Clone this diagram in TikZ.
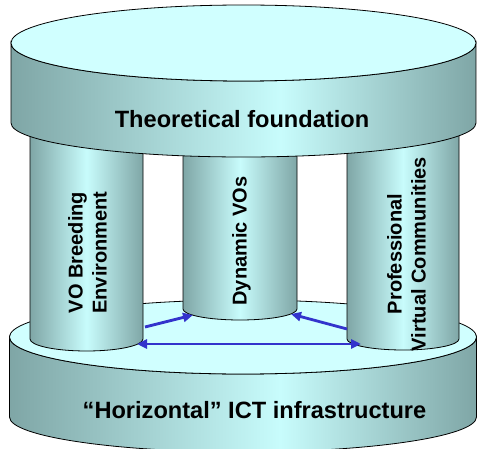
\documentclass[tikz,border=0pt]{standalone}
\usepackage{fontspec}
\setmainfont{Liberation Sans}
\usetikzlibrary{arrows.meta}

\definecolor{cylface}{HTML}{D0FFFF}
\definecolor{cyllight}{HTML}{C8FCFC}
\definecolor{cyldark}{HTML}{7FA6A6}
\definecolor{linkblue}{HTML}{3333CC}

% side shadings of the discs and pillars (dark rim, light band)
\pgfdeclarehorizontalshading{diskside}{100bp}{color(0bp)=(cyldark); color(25bp)=(cyldark); color(54bp)=(cyllight); color(75bp)=(cyldark); color(100bp)=(cyldark)}
\pgfdeclarehorizontalshading{pillarside}{100bp}{color(0bp)=(cyldark); color(25bp)=(cyldark); color(50bp)=(cyllight); color(75bp)=(cyldark); color(100bp)=(cyldark)}

\begin{document}
\begin{tikzpicture}[x=1pt,y=-1pt,
  outline/.style={draw=black,line width=0.8pt},
  title/.style={font=\fontsize{23.6}{28}\selectfont\bfseries,anchor=base,inner sep=0pt},
  pillarlabel/.style={font=\fontsize{20}{24}\selectfont\bfseries,rotate=90,anchor=north,inner sep=0pt,align=center},
  link/.style={draw=linkblue,line width=2.8pt},
  tip/.tip={Triangle[length=10pt,width=9pt]}]
\useasboundingbox (0,0) rectangle (477,449);

% lower disc: ICT infrastructure
\path[outline,shading=diskside] (9.5,337) -- (9.5,417)
  arc[start angle=180,end angle=0,x radius=233.5,y radius=35] -- (476.5,337)
  arc[start angle=0,end angle=180,x radius=233.5,y radius=37] -- cycle;
\path[outline,fill=cylface] (243,337) ellipse[x radius=233.5,y radius=37];

% middle pillar (behind)
\path[outline,shading=pillarside] (183,150) -- (183,309)
  arc[start angle=180,end angle=0,x radius=57,y radius=11] -- (297,150) -- cycle;

% left and right pillars
\path[outline,shading=pillarside] (30,130) -- (30,339)
  arc[start angle=180,end angle=0,x radius=56.5,y radius=12] -- (143,130) -- cycle;
\path[outline,shading=pillarside] (347,130) -- (347,339)
  arc[start angle=180,end angle=0,x radius=56,y radius=11] -- (459,130) -- cycle;

% upper disc: theoretical foundation
\path[outline,shading=diskside] (11,43) -- (11,123)
  arc[start angle=180,end angle=0,x radius=232.5,y radius=34] -- (476,43)
  arc[start angle=0,end angle=180,x radius=232.5,y radius=38] -- cycle;
\path[outline,fill=cylface] (243.5,43) ellipse[x radius=232.5,y radius=38];

% labels
\node[title] (theory) at (242,128) {Theoretical foundation};
\node[title] (ict) at (254.5,418) {“Horizontal” ICT infrastructure};
\node[pillarlabel] (vbe) at (68,252.5) {VO Breeding\\Environment};
\node[pillarlabel] (dvo) at (232,241) {Dynamic VOs};
\node[pillarlabel] (pvc) at (387,254) {Professional\\Virtual Communities};

% links between the pillars
\coordinate (vbeout) at (145,327);
\coordinate (dvoleft) at (193,315);
\coordinate (pvcout) at (347,329);
\coordinate (dvoright) at (291,314);
\coordinate (vbebase) at (137,344);
\coordinate (pvcbase) at (361,344);
\draw[link,-tip] (vbeout) -- (dvoleft);
\draw[link,-tip] (pvcout) -- (dvoright);
\draw[link,tip-tip] (vbebase) -- (pvcbase);
\end{tikzpicture}
\end{document}
